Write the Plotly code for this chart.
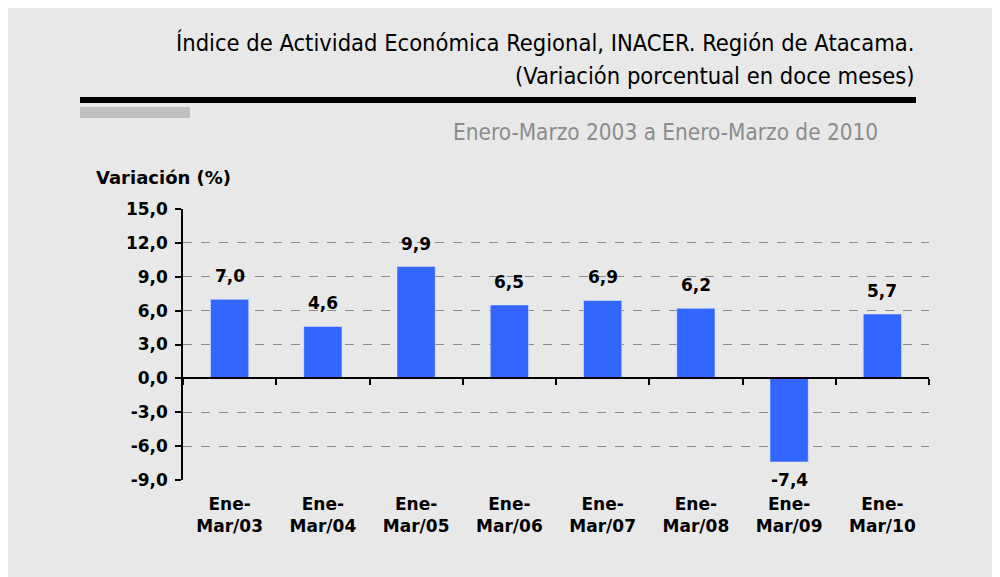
import plotly.graph_objects as go

periodos = ["Ene-<br>Mar/03", "Ene-<br>Mar/04", "Ene-<br>Mar/05", "Ene-<br>Mar/06",
            "Ene-<br>Mar/07", "Ene-<br>Mar/08", "Ene-<br>Mar/09", "Ene-<br>Mar/10"]
variacion = [7.0, 4.6, 9.9, 6.5, 6.9, 6.2, -7.4, 5.7]
y_ticks = [-9, -6, -3, 0, 3, 6, 9, 12, 15]

BG = "#e8e8e8"
BLUE = "#3366ff"
BOLD = "DejaVu Sans"
TITLE_FONT = "DejaVu Sans Condensed, Liberation Sans Narrow, Liberation Sans, sans-serif"

# page offset of the plotly div (body margin)
OFF = 8
W, H = 992, 569
L, R, T, B = 183 - OFF, W - (929 - OFF), 209 - OFF, H - (480 - OFF)
plot_w = W - L - R
plot_h = H - T - B


def px_x(x):
    return (x - OFF - L) / plot_w


def px_y(y):
    return (H - B - (y - OFF)) / plot_h


def fmt(v):
    return f"{v:.1f}".replace(".", ",")


fig = go.Figure()

fig.add_trace(go.Bar(
    x=periodos, y=variacion,
    marker_color=BLUE, width=0.41,
    hoverinfo="skip",
))

# invisible trace on the second x axis: zero line with ticks at category boundaries
fig.add_trace(go.Scatter(x=periodos, y=[None] * len(periodos), xaxis="x2",
                         mode="markers", showlegend=False, hoverinfo="skip"))

y_min, y_max = -9, 15
fig.update_layout(
    width=W, height=H,
    paper_bgcolor=BG, plot_bgcolor=BG,
    margin=dict(l=L, r=R, t=T, b=B),
    showlegend=False,
    font=dict(family=BOLD, color="#000000"),
    xaxis=dict(
        showline=False, showgrid=False, ticks="", zeroline=False,
        tickvals=periodos, ticktext=[f"<b>{p}</b>" for p in periodos],
        tickfont=dict(family=BOLD, size=17, color="#000000"), ticklabelstandoff=12,
    ),
    xaxis2=dict(
        overlaying="x", anchor="free", side="bottom",
        position=(0 - y_min) / (y_max - y_min),
        showline=True, linecolor="#000000", linewidth=1.5,
        ticks="outside", ticklen=6, tickcolor="#000000", tickwidth=1.5,
        tickson="boundaries", showticklabels=False, showgrid=False,
        matches="x",
    ),
    yaxis=dict(
        range=[y_min, y_max], tickvals=y_ticks,
        ticktext=[f"<b>{fmt(t)}</b>" for t in y_ticks],
        showline=True, linecolor="#000000", linewidth=1.5,
        ticks="outside", ticklen=6, tickcolor="#000000", tickwidth=1.5,
        showgrid=True, gridcolor="#8c8c8c", griddash="dash", gridwidth=1,
        zeroline=False, tickfont=dict(family=BOLD, size=17, color="#000000"),
        ticklabelstandoff=4,
    ),
)

# value labels
for p, v in zip(periodos, variacion):
    fig.add_annotation(
        x=p, y=v, text=f"<b>{fmt(v)}</b>", showarrow=False,
        yanchor="bottom" if v >= 0 else "top", yshift=11 if v >= 0 else -6,
        font=dict(family=BOLD, size=17, color="#000000"),
    )

titles = [
    ("Índice de Actividad Económica Regional, INACER. Región de Atacama.", 916, 43, 23.5, "#000000"),
    ("(Variación porcentual en doce meses)", 916, 76, 23.5, "#000000"),
    ("Enero-Marzo 2003 a Enero-Marzo de 2010", 880, 132, 22.4, "#8c8c8c"),
]
for text, x, y, size, color in titles:
    fig.add_annotation(
        text=text, xref="paper", yref="paper", x=px_x(x), y=px_y(y),
        showarrow=False, xanchor="right", yanchor="middle",
        font=dict(family=TITLE_FONT, size=size, color=color),
    )

fig.add_annotation(
    text="<b>Variación (%)</b>", xref="paper", yref="paper",
    x=px_x(94), y=px_y(177), xanchor="left", yanchor="middle", showarrow=False,
    font=dict(family=BOLD, size=18, color="#000000"),
)

# header rules
fig.add_shape(type="rect", xref="paper", yref="paper",
              x0=px_x(80), x1=px_x(916), y0=px_y(103), y1=px_y(97),
              fillcolor="#000000", line_width=0)
fig.add_shape(type="rect", xref="paper", yref="paper",
              x0=px_x(80), x1=px_x(190), y0=px_y(118), y1=px_y(107),
              fillcolor="#c0c0c0", line_width=0)

fig.write_html("out.html")
